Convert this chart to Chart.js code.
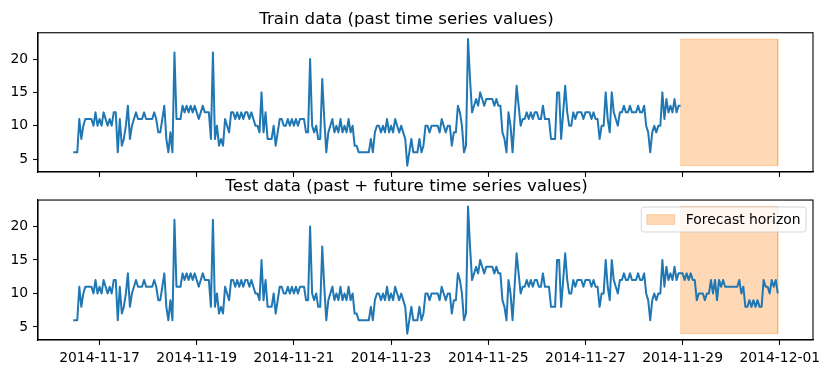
<!DOCTYPE html>
<html>
<head>
<meta charset="utf-8">
<script src="https://cdn.jsdelivr.net/npm/chart.js@4.4.1/dist/chart.umd.min.js"></script>
<style>
  html, body { margin: 0; padding: 0; background: #fff; }
  #wrap { position: relative; width: 829px; height: 374px; overflow: hidden; }
  canvas { position: absolute; left: 0; }
  #train { top: 0; }
  #test { top: 174px; }
</style>
</head>
<body>
<div id="wrap">
  <canvas id="train" width="829" height="186"></canvas>
  <canvas id="test" width="829" height="200"></canvas>
</div>
<script>
// hourly values, one array per day, first value at 2014-11-16 11:00
const firstTimestamp = '2014-11-16T11:00:00Z';
const nov16 = [6,6,6,11,8,10,11,11,11,11,10,12,10];
const nov17 = [11,10,12,11,10,11,10,12,12,6,11,7,8,10,13,8,10,11,12,11,11,11,12,11];
const nov18 = [11,11,11,12,11,9,9,11,13,8,6,9,6,21,11,11,11,13,12,13,12,13,12,13];
const nov19 = [12,11,12,13,12,12,12,8,21,8,10,7,8,7,11,10,9,12,12,11,12,11,12,11];
const nov20 = [12,12,11,12,11,10,10,9,15,9,12,8,8,8,10,7,9,11,11,10,10,11,10,11];
const nov21 = [10,11,10,11,11,11,9,9,20,10,9,10,8,8,17,11,6,9,10,11,9,10,9,11];
const nov22 = [9,10,9,11,9,10,7,7,6,6,6,6,6,6,8,6,9,10,10,9,10,9,11,9];
const nov23 = [10,9,11,10,9,10,9,8,4,6,8,6,6,6,8,6,7,10,10,9,10,10,10,10];
const nov24 = [9,11,10,9,10,10,7,9,9,13,12,10,6,7,23,17,12,13,14,13,15,14,13,14];
const nov25 = [14,14,14,13,14,13,13,9,8,6,12,10,6,11,16,13,10,11,11,12,11,12,11,12];
const nov26 = [12,11,11,13,11,11,11,8,8,8,15,15,8,12,16,12,10,10,12,11,12,12,12,11];
const nov27 = [12,12,12,11,12,11,11,8,10,10,15,11,9,15,12,11,10,12,12,13,12,12,13,12];
const nov28 = [12,12,13,12,12,13,10,9,6,9,10,9,10,10,15,11,14,12,13,12,14,12,13,13];
const nov29 = [13,12,13,12,13,12,12,9,10,10,10,9,10,10,12,10,12,9,12,11,12,11,11,11];
const nov30 = [11,11,11,11,12,10,11,8,8,9,8,9,8,9,8,8,12,11,11,10,12,11,12,10];

const trainEnd = '2014-11-28T23:00:00Z';      // last training timestamp
const horizonEnd = '2014-11-30T23:00:00Z';    // last test timestamp
const tickLabels = ['2014-11-17', '2014-11-19', '2014-11-21', '2014-11-23',
                    '2014-11-25', '2014-11-27', '2014-11-29', '2014-12-01'];
const yTicks = [5, 10, 15, 20];
const titles = ['Train data (past time series values)', 'Test data (past + future time series values)'];
const horizonLabel = 'Forecast horizon';

// x axis is hours since 2014-11-16 00:00
const origin = Date.parse('2014-11-16T00:00:00Z');
const toHours = s => (Date.parse(s) - origin) / 3600000;

const series = [...nov16, ...nov17, ...nov18, ...nov19, ...nov20, ...nov21, ...nov22, ...nov23,
                ...nov24, ...nov25, ...nov26, ...nov27, ...nov28, ...nov29, ...nov30];
const startHour = toHours(firstTimestamp);
const points = series.map((v, i) => ({ x: startHour + i, y: v }));
const trainPoints = points.filter(p => p.x <= toHours(trainEnd));

const lastHour = points[points.length - 1].x;
const tickHours = tickLabels.map(l => toHours(l + 'T00:00:00Z'));
const xPad = 0.05 * (lastHour - startHour);
const lo = Math.min(...series), hi = Math.max(...series);
const yPad = 0.05 * (hi - lo);

// forecast horizon band: filled top edge + outline
const hs = toHours(trainEnd), he = toHours(horizonEnd);
const spanColor = 'rgba(255,127,14,0.3)';
const spanTop = [{x: hs, y: hi}, {x: he, y: hi}];
const spanEdge = [{x: hs, y: lo}, {x: hs, y: hi}, {x: he, y: hi}, {x: he, y: lo}, {x: hs, y: lo}];

const FONT = 'DejaVu Sans';

const frame = {
  id: 'frame',
  afterDraw(chart) {
    const { ctx, chartArea: a } = chart;
    ctx.save();
    ctx.strokeStyle = '#000';
    ctx.lineWidth = 1.1;
    ctx.strokeRect(a.left, a.top, a.right - a.left, a.bottom - a.top);
    ctx.restore();
  }
};

const horizonLegend = {
  id: 'horizonLegend',
  afterDraw(chart) {
    const { ctx, chartArea: a } = chart;
    const fs = 13.9, pad = 0.4 * fs, hw = 2 * fs, hh = 0.7 * fs, gap = 0.8 * fs;
    ctx.save();
    ctx.font = fs + 'px "' + FONT + '"';
    const tw = ctx.measureText(horizonLabel).width;
    const w = pad + hw + gap + tw + pad, h = 2 * pad + fs;
    const x = a.right - 0.5 * fs - w, y = a.top + 0.5 * fs;
    ctx.beginPath();
    ctx.roundRect(x, y, w, h, 0.2 * fs);
    ctx.fillStyle = 'rgba(255,255,255,0.8)';
    ctx.fill();
    ctx.strokeStyle = 'rgba(204,204,204,0.8)';
    ctx.lineWidth = 1;
    ctx.stroke();
    ctx.fillStyle = spanColor;
    ctx.strokeStyle = spanColor;
    ctx.fillRect(x + pad, y + h / 2 - hh / 2, hw, hh);
    ctx.strokeRect(x + pad, y + h / 2 - hh / 2, hw, hh);
    ctx.fillStyle = '#000';
    ctx.textBaseline = 'middle';
    ctx.fillText(horizonLabel, x + pad + hw + gap, y + h / 2 + 0.5);
    ctx.restore();
  }
};

function makeChart(id, data, title, titleTop, showDates, axisHeight, plugins) {
  const tickFont = { family: FONT, size: 13.9 };
  return new Chart(document.getElementById(id), {
    type: 'line',
    data: {
      datasets: [
        { data: data, borderColor: '#1f77b4', borderWidth: 2, pointRadius: 0,
          tension: 0, fill: false, borderJoinStyle: 'round', order: 0 },
        { data: spanEdge, borderColor: spanColor, borderWidth: 1,
          pointRadius: 0, tension: 0, fill: false, order: 1 },
        { data: spanTop, borderWidth: 0, borderColor: 'rgba(0,0,0,0)', backgroundColor: spanColor,
          pointRadius: 0, tension: 0, fill: { value: lo }, order: 2 }
      ]
    },
    options: {
      responsive: false,
      animation: false,
      devicePixelRatio: 1,
      layout: { padding: { left: 0, right: 16, top: 0, bottom: 0 } },
      plugins: {
        legend: { display: false },
        tooltip: { enabled: false },
        filler: { propagate: false },
        title: {
          display: true, text: title, color: '#000',
          font: { family: FONT, size: 16.7, weight: 'normal', lineHeight: 1.2 },
          padding: { top: titleTop, bottom: 3.3 }
        }
      },
      scales: {
        x: {
          type: 'linear',
          min: startHour - xPad,
          max: lastHour + xPad,
          afterBuildTicks: s => { s.ticks = tickHours.map(v => ({ value: v })); },
          afterFit: s => { s.height = axisHeight; },
          ticks: { display: showDates, callback: (v, i) => tickLabels[i], font: tickFont,
                   color: '#000', padding: 4.9, maxRotation: 0, autoSkip: false },
          grid: { display: true, drawOnChartArea: false, drawTicks: true, tickLength: 4.9,
                  tickColor: '#000', tickWidth: 1.1 },
          border: { display: true, color: '#000', width: 1.1 }
        },
        y: {
          min: lo - yPad,
          max: hi + yPad,
          afterBuildTicks: s => { s.ticks = yTicks.map(v => ({ value: v })); },
          afterFit: s => { s.width = 38; },
          ticks: { font: tickFont, color: '#000', padding: 4.9 },
          grid: { display: true, drawOnChartArea: false, drawTicks: true, tickLength: 4.9,
                  tickColor: '#000', tickWidth: 1.1 },
          border: { display: true, color: '#000', width: 1.1 }
        }
      }
    },
    plugins: plugins
  });
}

makeChart('train', trainPoints, titles[0], 9.4, false, 14, [frame]);
makeChart('test', points, titles[1], 2.7, true, 34, [frame, horizonLegend]);
</script>
</body>
</html>
